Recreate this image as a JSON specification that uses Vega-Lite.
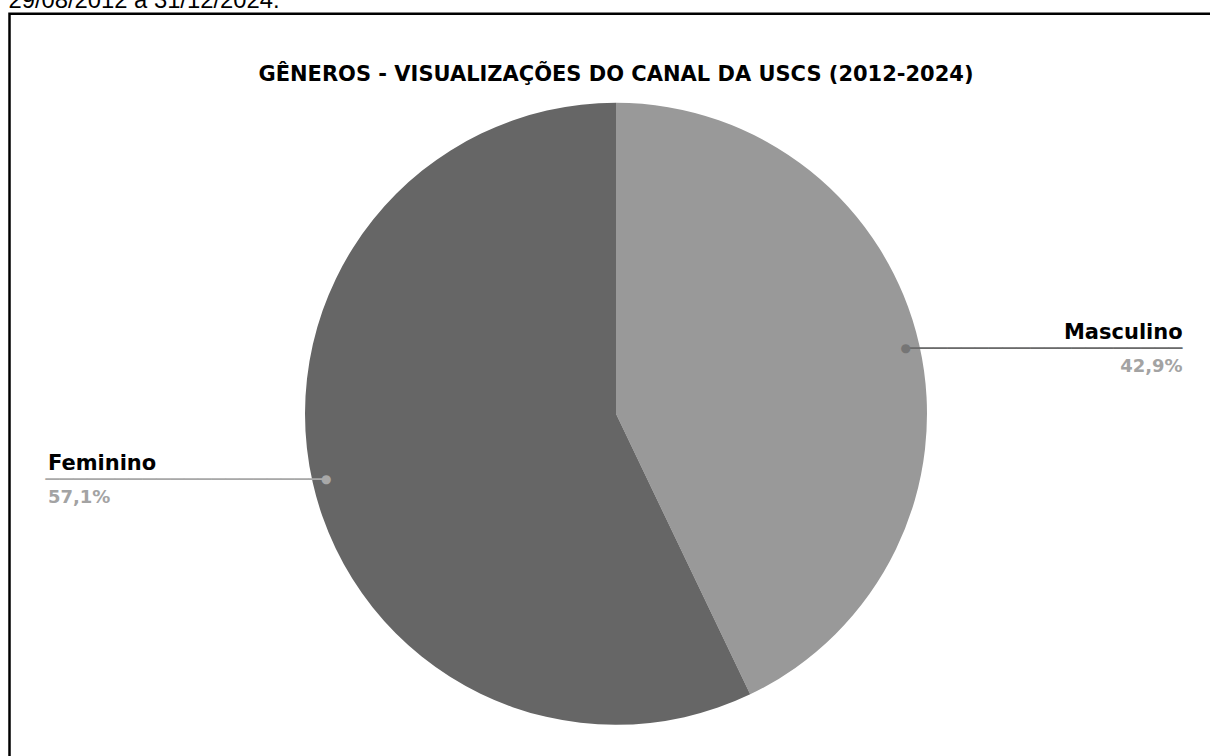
{
  "$schema": "https://vega.github.io/schema/vega-lite/v6.json",
  "autosize": "none",
  "padding": {"left": 9.5, "top": 13.8, "right": 0, "bottom": 0},
  "width": 1213,
  "height": 800,
  "background": "white",
  "view": {"stroke": "#000000", "strokeWidth": 2.5, "fill": null},
  "title": {
    "text": "29/08/2012 a 31/12/2024.",
    "subtitle": "GÊNEROS - VISUALIZAÇÕES DO CANAL DA USCS (2012-2024)",
    "anchor": "middle",
    "frame": "group",
    "orient": "top",
    "font": "Liberation Sans",
    "fontSize": 23.8,
    "fontWeight": "normal",
    "color": "#000000",
    "subtitleFont": "DejaVu Sans",
    "subtitleFontSize": 21,
    "subtitleFontWeight": "bold",
    "subtitleColor": "#000000",
    "subtitlePadding": 51,
    "offset": -71
  },
  "config": {
    "view": {"stroke": "#000000", "strokeWidth": 2.5},
    "style": {"group-title": {"dx": -472}, "cell": {"stroke": "#000000", "strokeWidth": 2.5}},
    "locale": {"number": {"decimal": ",", "thousands": ".", "grouping": [3], "currency": ["R$", ""]}}
  },
  "data": {
    "values": [
      {"genero": "Masculino", "share": 0.429},
      {"genero": "Feminino", "share": 0.571}
    ]
  },
  "encoding": {
    "theta": {"field": "share", "type": "quantitative", "stack": true},
    "order": {"field": "genero", "sort": "descending"},
    "detail": {"field": "genero", "type": "nominal"}
  },
  "layer": [
    {
      "mark": {"type": "arc", "outerRadius": 311},
      "encoding": {
        "color": {
          "field": "genero",
          "type": "nominal",
          "scale": {"domain": ["Masculino", "Feminino"], "range": ["#999999", "#666666"]},
          "legend": null
        }
      }
    },
    {
      "mark": {"type": "text", "radius": 297, "align": "left", "baseline": "alphabetic", "dx": 0, "dy": 7.97, "font": "DejaVu Sans", "fontSize": 23, "color": "#6a6a6a"},
      "encoding": {
        "text": {"condition": {"test": "datum.genero === 'Masculino'", "value": "────────────────────"}, "value": ""}
      }
    },
    {
      "mark": {"type": "text", "radius": 297, "align": "right", "baseline": "alphabetic", "dx": -4, "dy": 7.97, "font": "DejaVu Sans", "fontSize": 23, "color": "#a8a8a8"},
      "encoding": {
        "text": {"condition": {"test": "datum.genero === 'Feminino'", "value": "────────────────────"}, "value": ""}
      }
    },
    {
      "mark": {"type": "text", "radius": 297, "align": "center", "baseline": "middle", "font": "DejaVu Sans", "fontSize": 12},
      "encoding": {
        "text": {"value": "●"},
        "color": {
          "field": "genero",
          "type": "nominal",
          "scale": {"domain": ["Masculino", "Feminino"], "range": ["#757575", "#a8a8a8"]},
          "legend": null
        }
      }
    },
    {
      "mark": {"type": "text", "radius": 297, "align": "right", "baseline": "alphabetic", "dx": 277, "dy": -9, "font": "DejaVu Sans", "fontSize": 21, "fontWeight": "bold", "color": "#000000"},
      "encoding": {
        "text": {"condition": {"test": "datum.genero === 'Masculino'", "field": "genero", "type": "nominal"}, "value": ""}
      }
    },
    {
      "mark": {"type": "text", "radius": 297, "align": "right", "baseline": "alphabetic", "dx": 277, "dy": 24, "font": "DejaVu Sans", "fontSize": 18, "fontWeight": "bold", "color": "#a3a3a3"},
      "encoding": {
        "text": {"condition": {"test": "datum.genero === 'Masculino'", "field": "share", "type": "quantitative", "format": ".1%"}, "value": ""}
      }
    },
    {
      "mark": {"type": "text", "radius": 297, "align": "left", "baseline": "alphabetic", "dx": -278.4, "dy": -9, "font": "DejaVu Sans", "fontSize": 21, "fontWeight": "bold", "color": "#000000"},
      "encoding": {
        "text": {"condition": {"test": "datum.genero === 'Feminino'", "field": "genero", "type": "nominal"}, "value": ""}
      }
    },
    {
      "mark": {"type": "text", "radius": 297, "align": "left", "baseline": "alphabetic", "dx": -278.4, "dy": 24, "font": "DejaVu Sans", "fontSize": 18, "fontWeight": "bold", "color": "#a3a3a3"},
      "encoding": {
        "text": {"condition": {"test": "datum.genero === 'Feminino'", "field": "share", "type": "quantitative", "format": ".1%"}, "value": ""}
      }
    }
  ],
  "resolve": {"scale": {"color": "independent"}}
}
